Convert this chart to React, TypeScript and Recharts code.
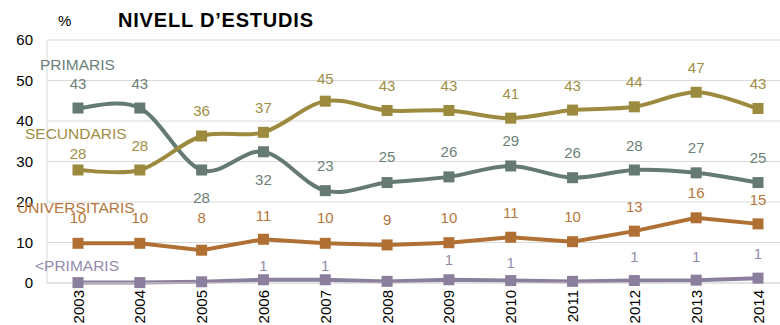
import React from "react";
import { LineChart, Line, XAxis, YAxis, CartesianGrid, LabelList } from "recharts";

const years = ["2003", "2004", "2005", "2006", "2007", "2008", "2009", "2010", "2011", "2012", "2013", "2014"];
const primaris = [43.2, 43.2, 27.9, 32.4, 22.8, 24.8, 26.2, 28.9, 26.0, 27.9, 27.2, 24.8];
const secundaris = [27.9, 27.9, 36.3, 37.2, 44.9, 42.6, 42.6, 40.7, 42.7, 43.5, 47.1, 43.1];
const universitaris = [9.8, 9.8, 8.1, 10.8, 9.8, 9.4, 9.95, 11.3, 10.2, 12.8, 16.1, 14.6];
const menysPrimaris = [0.1, 0.1, 0.3, 0.8, 0.8, 0.4, 0.8, 0.6, 0.4, 0.6, 0.7, 1.2];
const yTicks = [0, 10, 20, 30, 40, 50, 60];

// label vertical offsets (px) relative to each point
const primarisLabelDy = [-25, -25, 27, 28, -25, -26, -25, -25, -25, -25, -25, -25];
const secundarisLabelDy = [-17, -25, -25, -25, -23, -25, -25, -25, -25, -25, -25, -25];
const universitarisLabelDy = [-26, -26, -33, -24, -26, -25, -25, -25, -25, -25, -25, -24];
const menysPrimarisLabelDy = [-14, -14, -14, -14, -14, -18, -20, -18, -20, -24, -24, -25];

const data = years.map((year, i) => ({
  year,
  primaris: primaris[i],
  secundaris: secundaris[i],
  universitaris: universitaris[i],
  menysPrimaris: menysPrimaris[i],
}));

const FONT = "'Liberation Sans', Arial, Helvetica, sans-serif";

const COLORS = {
  primaris: "#647a72",
  secundaris: "#9c8a3e",
  universitaris: "#b07034",
  menysPrimaris: "#8a7f9c",
};
const LABEL_COLORS = {
  primaris: "#6b8179",
  secundaris: "#a08e45",
  universitaris: "#b5763c",
  menysPrimaris: "#948bab",
};

// Excel-like smoothing (cardinal spline with tension 0)
const smoothCurve: any = (context: any) => {
  let pts: number[][] = [];
  return {
    areaStart() {},
    areaEnd() {},
    lineStart() {
      pts = [];
    },
    lineEnd() {
      if (!pts.length) return;
      context.moveTo(pts[0][0], pts[0][1]);
      for (let i = 0; i < pts.length - 1; i++) {
        const p0 = pts[i - 1] || pts[i];
        const p1 = pts[i];
        const p2 = pts[i + 1];
        const p3 = pts[i + 2] || p2;
        const c1x = p1[0] + (p2[0] - p0[0]) / 6;
        const c1y = p1[1] + (p2[1] - p0[1]) / 6;
        const c2x = p2[0] - (p3[0] - p1[0]) / 6;
        const c2y = p2[1] - (p3[1] - p1[1]) / 6;
        context.bezierCurveTo(c1x, c1y, c2x, c2y, p2[0], p2[1]);
      }
    },
    point(x: number, y: number) {
      pts.push([+x, +y]);
    },
  };
};

const squareDot = (color: string) => (props: any) => {
  const { cx, cy, index } = props;
  if (cx == null || cy == null) return <g key={`d-${index}`} />;
  return <rect key={`d-${index}`} x={cx - 5.5} y={cy - 5.5} width={11} height={11} fill={color} />;
};

const makeLabel = (color: string, dys: number[]) => (props: any) => {
  const { x, y, value, index } = props;
  const r = Math.round(Number(value));
  if (!r) return null;
  return (
    <text
      key={`l-${index}`}
      x={x}
      y={y + dys[index]}
      textAnchor="middle"
      dominantBaseline="central"
      fill={color}
      fontSize={15}
      fontFamily={FONT}
    >
      {r}
    </text>
  );
};

const XTick = (props: any) => {
  const { x, y, payload } = props;
  return (
    <text
      x={x}
      y={y}
      transform={`rotate(-90 ${x} ${y})`}
      textAnchor="end"
      dominantBaseline="central"
      fill="#000"
      fontSize={15}
      fontFamily={FONT}
    >
      {payload.value}
    </text>
  );
};

export default function App() {
  return (
    <div style={{ position: "absolute", left: 0, top: 0, width: 780, height: 325, overflow: "hidden", background: "#fff", fontFamily: FONT }}>
      <LineChart width={800} height={325} data={data} margin={{ top: 40, right: 11, bottom: 0, left: 0 }}>
        <CartesianGrid vertical={false} stroke="#d9d9d9" />
        <XAxis
          dataKey="year"
          height={42}
          padding={{ left: 31, right: 31 }}
          tickLine={false}
          tickSize={0}
          tickMargin={7}
          axisLine={{ stroke: "#d9d9d9" }}
          tick={<XTick />}
          interval={0}
        />
        <YAxis
          width={47}
          domain={[0, 60]}
          ticks={yTicks}
          tickLine={false}
          tickMargin={8}
          axisLine={{ stroke: "#d9d9d9" }}
          tick={{ fontSize: 15, fill: "#000", fontFamily: FONT }}
        />
        <Line
          dataKey="primaris"
          type={smoothCurve}
          stroke={COLORS.primaris}
          strokeWidth={4}
          dot={squareDot(COLORS.primaris)}
          isAnimationActive={false}
        >
          <LabelList dataKey="primaris" content={makeLabel(LABEL_COLORS.primaris, primarisLabelDy)} />
        </Line>
        <Line
          dataKey="secundaris"
          type={smoothCurve}
          stroke={COLORS.secundaris}
          strokeWidth={4}
          dot={squareDot(COLORS.secundaris)}
          isAnimationActive={false}
        >
          <LabelList dataKey="secundaris" content={makeLabel(LABEL_COLORS.secundaris, secundarisLabelDy)} />
        </Line>
        <Line
          dataKey="universitaris"
          type="linear"
          stroke={COLORS.universitaris}
          strokeWidth={4}
          dot={squareDot(COLORS.universitaris)}
          isAnimationActive={false}
        >
          <LabelList dataKey="universitaris" content={makeLabel(LABEL_COLORS.universitaris, universitarisLabelDy)} />
        </Line>
        <Line
          dataKey="menysPrimaris"
          type="linear"
          stroke={COLORS.menysPrimaris}
          strokeWidth={4}
          dot={squareDot(COLORS.menysPrimaris)}
          isAnimationActive={false}
        >
          <LabelList dataKey="menysPrimaris" content={makeLabel(LABEL_COLORS.menysPrimaris, menysPrimarisLabelDy)} />
        </Line>
      </LineChart>
      <svg width={780} height={325} style={{ position: "absolute", left: 0, top: 0, pointerEvents: "none" }}>
        <text x={58} y={20.5} dominantBaseline="central" fontSize={15} fill="#000" fontFamily={FONT}>%</text>
        <text x={118} y={20} dominantBaseline="central" fontSize={20} letterSpacing={0.8} fontWeight="bold" fill="#000" fontFamily={FONT}>
          NIVELL D’ESTUDIS
        </text>
        <text x={40} y={64} dominantBaseline="central" fontSize={15.5} fill={LABEL_COLORS.primaris} fontFamily={FONT}>PRIMARIS</text>
        <text x={25} y={133} dominantBaseline="central" fontSize={15.5} fill={LABEL_COLORS.secundaris} fontFamily={FONT}>SECUNDARIS</text>
        <text x={17} y={207} dominantBaseline="central" fontSize={15.5} fill={LABEL_COLORS.universitaris} fontFamily={FONT}>UNIVERSITARIS</text>
        <text x={35} y={265} dominantBaseline="central" fontSize={15.5} fill={LABEL_COLORS.menysPrimaris} fontFamily={FONT}>&lt;PRIMARIS</text>
      </svg>
    </div>
  );
}
